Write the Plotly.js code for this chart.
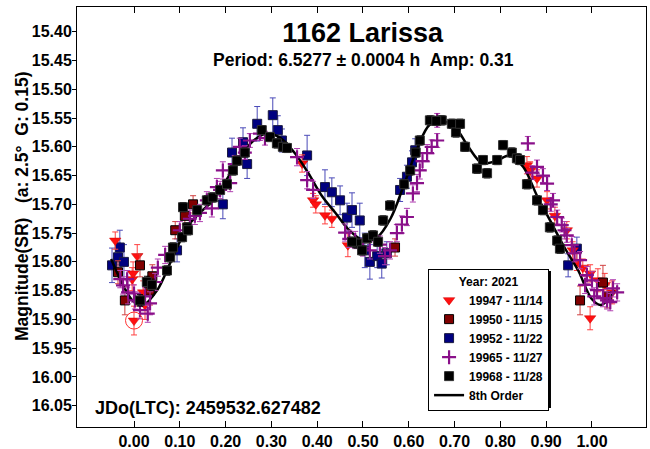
<!DOCTYPE html>
<html>
<head>
<meta charset="utf-8">
<script src="https://cdn.plot.ly/plotly-3.0.1.min.js"></script>
<style>html,body{margin:0;padding:0;background:#fff;}#chart{width:650px;height:449px;}</style>
</head>
<body>
<div id="chart"></div>
<script>
// ---- tick labels ----
const xTickVals = [0.0, 0.1, 0.2, 0.3, 0.4, 0.5, 0.6, 0.7, 0.8, 0.9, 1.0];
const xTickText = ["0.00","0.10","0.20","0.30","0.40","0.50","0.60","0.70","0.80","0.90","1.00"];
const yTickVals = [15.40,15.45,15.50,15.55,15.60,15.65,15.70,15.75,15.80,15.85,15.90,15.95,16.00,16.05];
const yTickText = ["15.40","15.45","15.50","15.55","15.60","15.65","15.70","15.75","15.80","15.85","15.90","15.95","16.00","16.05"];

// ---- series names ----
const seriesNames = ["19947 - 11/14","19950 - 11/15","19952 - 11/22","19965 - 11/27","19968 - 11/28","8th Order"];

// ---- 19947 - 11/14 ----
const phase47 = [-0.041,-0.004,-0.002,0.000,0.007,0.020,0.024,0.367,0.391,0.397,0.417,0.432,0.467,0.858,0.865,0.880,0.902,0.919,0.945,0.958,0.967,0.980,0.996,0.996,1.013,1.028,1.044];
const mag47   = [15.763,15.830,15.820,15.902,15.790,15.853,15.875,15.629,15.693,15.700,15.719,15.725,15.771,15.632,15.641,15.655,15.693,15.720,15.745,15.780,15.800,15.810,15.820,15.898,15.832,15.840,15.853];
const err47   = [0.015,0.020,0.020,0.025,0.020,0.020,0.025,0.015,0.012,0.015,0.015,0.015,0.020,0.015,0.015,0.015,0.015,0.015,0.015,0.015,0.015,0.015,0.015,0.020,0.020,0.020,0.020];
const circledIndex = 3;

// ---- 19950 - 11/15 ----
const phase50 = [-0.035,-0.020,0.013,0.035,0.040,0.090,0.111,0.129,0.570,0.974,1.024,1.033];
const mag50   = [15.818,15.867,15.806,15.850,15.825,15.745,15.720,15.700,15.775,15.867,15.836,15.860];
const err50   = [0.020,0.025,0.020,0.025,0.020,0.015,0.015,0.015,0.015,0.025,0.030,0.020];

// ---- 19952 - 11/22 ----
const phase52 = [-0.048,-0.035,-0.031,-0.022,0.094,0.194,0.214,0.238,0.247,0.269,0.303,0.314,0.323,0.378,0.417,0.432,0.450,0.465,0.476,0.493,0.504,0.515,0.531,0.541,0.552,0.581,0.596,0.607,0.614,0.948,0.967];
const mag52   = [15.806,15.792,15.775,15.800,15.780,15.700,15.610,15.592,15.630,15.560,15.545,15.571,15.589,15.615,15.670,15.679,15.693,15.723,15.710,15.728,15.780,15.800,15.790,15.803,15.785,15.675,15.652,15.627,15.606,15.806,15.777];
const err52   = [0.030,0.025,0.030,0.030,0.020,0.025,0.025,0.025,0.025,0.030,0.030,0.025,0.020,0.035,0.030,0.025,0.025,0.025,0.030,0.030,0.030,0.030,0.020,0.025,0.020,0.020,0.020,0.020,0.020,0.020,0.020];

// ---- 19965 - 11/27 ----
const phase65 = [-0.024,-0.015,-0.013,0.002,0.013,0.024,0.035,0.046,0.052,0.068,
                 0.122,0.144,0.159,0.170,0.181,0.194,0.210,0.231,0.253,0.275,
                 0.356,0.378,0.391,0.461,0.483,0.515,0.537,0.559,0.574,0.596,
                 0.609,0.618,0.624,0.640,0.662,0.662,0.860,0.880,0.893,0.902,
                 0.915,0.924,0.934,0.945,0.956,0.974,0.989,1.000,1.011,1.024,
                 1.033,1.046,1.055,0.100,0.133,0.188,0.220,0.242,0.286,0.470,
                 0.500,0.548,0.585,0.630,0.650,0.870,0.910,0.940,0.962,0.985,
                 1.040,1.005,0.000,0.030,-0.030];
const mag65   = [15.841,15.830,15.853,15.867,15.884,15.860,15.872,15.835,15.810,15.788,
                 15.725,15.715,15.693,15.707,15.670,15.641,15.663,15.600,15.589,15.577,
                 15.618,15.658,15.675,15.749,15.762,15.780,15.770,15.780,15.750,15.722,
                 15.681,15.663,15.641,15.611,15.589,15.554,15.594,15.635,15.650,15.664,
                 15.693,15.722,15.736,15.754,15.771,15.797,15.823,15.832,15.849,15.863,
                 15.867,15.846,15.853,15.745,15.720,15.675,15.630,15.610,15.585,15.760,
                 15.775,15.790,15.735,15.625,15.600,15.645,15.700,15.745,15.785,15.840,
                 15.870,15.860,15.855,15.890,15.830];
const err65   = [0.015,0.015,0.020,0.015,0.015,0.015,0.020,0.015,0.015,0.015,
                 0.015,0.015,0.015,0.015,0.015,0.015,0.015,0.015,0.012,0.012,
                 0.015,0.015,0.015,0.015,0.015,0.015,0.015,0.015,0.015,0.015,
                 0.015,0.015,0.015,0.015,0.012,0.012,0.012,0.012,0.012,0.012,
                 0.012,0.012,0.012,0.012,0.015,0.015,0.015,0.015,0.015,0.015,
                 0.015,0.015,0.015,0.015,0.015,0.015,0.015,0.012,0.012,0.015,
                 0.015,0.015,0.015,0.015,0.012,0.012,0.012,0.015,0.015,0.015,
                 0.015,0.015,0.015,0.015,0.015];

// ---- 19968 - 11/28 ----
const phase68 = [0.013,0.028,0.039,0.072,0.079,0.085,0.105,0.107,0.116,0.118,
                 0.138,0.159,0.172,0.188,0.203,0.216,0.225,0.242,0.279,0.297,
                 0.312,0.325,0.334,0.487,0.498,0.509,0.522,0.544,0.559,0.603,
                 0.624,0.646,0.672,0.694,0.703,0.712,0.723,0.749,0.762,0.771,
                 0.793,0.806,0.825,0.836,0.843,0.858,0.880,0.893,0.908,0.924,
                 0.930,0.476,0.533,0.590,0.615,0.660];
const mag68   = [15.867,15.835,15.840,15.815,15.792,15.775,15.757,15.705,15.740,15.745,
                 15.710,15.693,15.688,15.675,15.665,15.641,15.624,15.610,15.571,15.583,
                 15.594,15.600,15.602,15.768,15.780,15.759,15.754,15.728,15.702,15.641,
                 15.589,15.554,15.554,15.560,15.575,15.560,15.600,15.638,15.623,15.646,
                 15.623,15.597,15.610,15.620,15.623,15.665,15.693,15.710,15.740,15.763,
                 15.777,15.765,15.765,15.665,15.610,15.555];
const err68   = [0.010,0.010,0.010,0.008,0.008,0.008,0.008,0.008,0.008,0.008,
                 0.008,0.008,0.008,0.008,0.008,0.008,0.008,0.008,0.008,0.008,
                 0.008,0.008,0.008,0.008,0.008,0.008,0.008,0.008,0.008,0.008,
                 0.008,0.008,0.008,0.008,0.008,0.008,0.008,0.008,0.008,0.008,
                 0.008,0.008,0.008,0.008,0.008,0.008,0.008,0.008,0.008,0.008,
                 0.008,0.008,0.008,0.008,0.008,0.008];

// ---- 8th order Fourier fit ----
const fitPhase = [-0.05,0.00,0.02,0.05,0.08,0.10,0.12,0.15,0.17,0.20,0.23,0.26,0.29,0.32,0.35,0.38,0.41,0.44,0.47,0.50,0.53,0.56,0.59,0.62,0.645,0.67,0.70,0.73,0.76,0.79,0.82,0.85,0.88,0.91,0.94,0.97,1.00,1.02,1.05];
const fitMag   = [15.795,15.870,15.875,15.850,15.800,15.765,15.735,15.710,15.695,15.660,15.620,15.590,15.577,15.585,15.610,15.645,15.685,15.715,15.745,15.762,15.758,15.725,15.665,15.600,15.562,15.555,15.565,15.600,15.628,15.625,15.615,15.635,15.685,15.730,15.775,15.815,15.865,15.875,15.850];

const FONT = "Liberation Sans, Arial, Helvetica, sans-serif";

function pts(name, xs, ys, es, marker, errColor, rank) {
  return {
    type: "scatter", mode: "markers", name: name, x: xs, y: ys,
    marker: marker, legendrank: rank,
    error_y: {type: "data", array: es, visible: true, color: errColor, thickness: 1, width: 3}
  };
}

const traces = [
  pts(seriesNames[2], phase52, mag52, err52, {symbol: "square", size: 9, color: "#000080", line: {color: "#1a1a40", width: 1}}, "#4a4ab8", 3),
  pts(seriesNames[0], phase47, mag47, err47, {symbol: "triangle-down", size: 10, color: "#ff1010", line: {color: "#d00000", width: 0.5}}, "#ff4040", 1),
  pts(seriesNames[1], phase50, mag50, err50, {symbol: "square", size: 9, color: "#800000", line: {color: "#000000", width: 1}}, "#d04040", 2),
  {type: "scatter", mode: "lines", name: seriesNames[5], x: fitPhase, y: fitMag, line: {color: "#000000", width: 2.5, shape: "spline"}, legendrank: 6},
  pts(seriesNames[3], phase65, mag65, err65, {symbol: "cross-thin", size: 10, color: "#800080", line: {color: "#8a108a", width: 2.2}}, "#b040b0", 4),
  pts(seriesNames[4], phase68, mag68, err68, {symbol: "square", size: 9, color: "#000000", line: {color: "#303030", width: 1}}, "#000000", 5),
  {type: "scatter", mode: "markers", showlegend: false, hoverinfo: "skip",
   x: [phase47[circledIndex]], y: [mag47[circledIndex]],
   marker: {symbol: "circle-open", size: 17, color: "#ff3030", line: {color: "#ff3030", width: 1}}}
];

const yRange = [16.087, 15.357];
const layout = {
  width: 650, height: 449,
  margin: {l: 77, r: 4, t: 7, b: 22},
  paper_bgcolor: "#ffffff", plot_bgcolor: "#ffffff",
  font: {family: FONT, color: "#000000"},
  title: {text: "1162 Larissa", font: {family: FONT, size: 27, weight: "bold", color: "#000"},
          x: 0.558, xanchor: "center", xref: "container", y: 0.9265, yanchor: "middle", yref: "container"},
  showlegend: true,
  legend: {x: 0.617, xanchor: "left", y: 0.038, yanchor: "bottom",
           bgcolor: "#ffffff", bordercolor: "#000000", borderwidth: 1,
           font: {family: FONT, size: 12, weight: "bold", color: "#000"},
           title: {text: "Year: 2021", side: "top center", font: {family: FONT, size: 12, weight: "bold"}},
           itemwidth: 30, traceorder: "normal"},
  xaxis: {range: [-0.1245, 1.118], tickmode: "array", tickvals: xTickVals, ticktext: xTickText,
          ticks: "inside", ticklen: 6, tickcolor: "#000", mirror: "ticks", showline: true, linecolor: "#000", linewidth: 1,
          showgrid: false, zeroline: false, tickfont: {family: FONT, size: 16, weight: "bold", color: "#000"}},
  yaxis: {range: yRange, tickmode: "array", tickvals: yTickVals, ticktext: yTickText,
          ticks: "outside", ticklen: 4, ticklabelstandoff: -3, tickcolor: "#000", mirror: true, showline: true, linecolor: "#000", linewidth: 1,
          showgrid: false, zeroline: false, tickfont: {family: FONT, size: 16, weight: "bold", color: "#000"}},
  yaxis2: {range: yRange, overlaying: "y", side: "right", tickmode: "array", tickvals: yTickVals,
           ticks: "inside", ticklen: 6, tickcolor: "#000", showticklabels: false, showline: false,
           showgrid: false, zeroline: false},
  shapes: [
    // drop shadow under the legend box (legend itself is drawn on top of it)
    {type: "rect", xref: "paper", yref: "paper", layer: "above",
     x0: 0.6221, x1: 0.8330, y0: 0.0452, y1: 0.3714,
     fillcolor: "#000000", line: {width: 0}}
  ],
  annotations: [
    {xref: "paper", yref: "paper", x: 0.503, y: 0.874, xanchor: "center", yanchor: "middle", showarrow: false,
     text: "Period: 6.5277 \u00b1 0.0004 h\u00a0\u00a0Amp: 0.31", font: {family: FONT, size: 17.5, weight: "bold", color: "#000"}},
    {xref: "paper", yref: "paper", x: 0.028, y: 0.045, xanchor: "left", yanchor: "middle", showarrow: false,
     text: "JDo(LTC): 2459532.627482", font: {family: FONT, size: 18, weight: "bold", color: "#000"}},
    {xref: "paper", yref: "paper", x: -0.0967, y: 0.526, xanchor: "center", yanchor: "middle", showarrow: false, textangle: -90,
     text: "Magnitude(SR)\u00a0\u00a0\u00a0(a: 2.5\u00b0\u00a0\u00a0G: 0.15)", font: {family: FONT, size: 17.5, weight: "bold", color: "#000"}}
  ]
};

Plotly.newPlot("chart", traces, layout, {displayModeBar: false, staticPlot: true});
</script>
</body>
</html>
